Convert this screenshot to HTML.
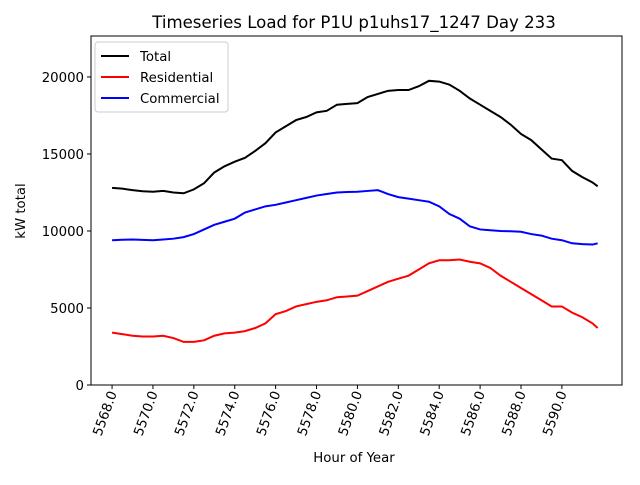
<!DOCTYPE html>
<html><head><meta charset="utf-8"><style>body{margin:0;background:#fff}svg{font-family:"DejaVu Sans","Liberation Sans",sans-serif}</style></head>
<body>
<svg id="chart" width="640" height="480" xmlns="http://www.w3.org/2000/svg">
<rect width="640" height="480" fill="#fff"/>
<text x="354" y="28" font-size="16.6" text-anchor="middle">Timeseries Load for P1U p1uhs17_1247  Day 233</text>
<text x="354" y="462" font-size="13.3" text-anchor="middle">Hour of Year</text>
<text transform="translate(25,211) rotate(-90)" font-size="13.3" text-anchor="middle">kW total</text>
<g id="plot"></g>
</svg>
<script>
const hours=[5568,5568.5,5569,5569.5,5570,5570.5,5571,5571.5,5572,5572.5,5573,5573.5,5574,5574.5,5575,5575.5,5576,5576.5,5577,5577.5,5578,5578.5,5579,5579.5,5580,5580.5,5581,5581.5,5582,5582.5,5583,5583.5,5584,5584.5,5585,5585.5,5586,5586.5,5587,5587.5,5588,5588.5,5589,5589.5,5590,5590.5,5591,5591.5,5591.75];
const total=[12800,12750,12650,12580,12550,12600,12500,12450,12700,13100,13800,14200,14500,14750,15200,15700,16400,16800,17200,17400,17700,17800,18200,18250,18300,18700,18900,19100,19150,19150,19400,19750,19700,19500,19100,18600,18200,17800,17400,16900,16300,15900,15300,14700,14600,13900,13500,13150,12900];
const residential=[3400,3300,3200,3150,3150,3200,3050,2800,2800,2900,3200,3350,3400,3500,3700,4000,4600,4800,5100,5250,5400,5500,5700,5750,5800,6100,6400,6700,6900,7100,7500,7900,8100,8100,8150,8000,7900,7600,7100,6700,6300,5900,5500,5100,5100,4700,4400,4000,3700];
const commercial=[9400,9430,9450,9420,9400,9450,9500,9600,9800,10100,10400,10600,10800,11200,11400,11600,11700,11850,12000,12150,12300,12400,12500,12530,12550,12600,12650,12400,12200,12100,12000,11900,11600,11100,10800,10300,10100,10050,10000,9980,9950,9800,9700,9500,9400,9200,9150,9120,9200];
const yTicks=[0,5000,10000,15000,20000];
const xTicks=[5568,5570,5572,5574,5576,5578,5580,5582,5584,5586,5588,5590];
const L=91,R=622,T=36,B=385,x0=5566.97,x1=5592.94,y0=0,y1=22660;
const sx=v=>L+(v-x0)/(x1-x0)*(R-L), sy=v=>B-(v-y0)/(y1-y0)*(B-T);
const NS='http://www.w3.org/2000/svg', g=document.getElementById('plot');
function mk(t,a){const e=document.createElementNS(NS,t);for(const k in a)e.setAttribute(k,a[k]);g.appendChild(e);return e;}
const series=[[total,'#000','total'],[residential,'#f00','residential'],[commercial,'#00f','commercial']];
series.forEach(s=>{const p=mk('polyline',{points:hours.map((h,i)=>sx(h)+','+sy(s[0][i])).join(' '),fill:'none',stroke:s[1],'stroke-width':2});

});
const f=mk('rect',{x:L,y:T,width:R-L,height:B-T,fill:'none',stroke:'#000','stroke-width':1});


yTicks.forEach(v=>{const y=sy(v);mk('line',{x1:L-4,x2:L,y1:y,y2:y,stroke:'#000'});
const t=mk('text',{x:L-7,y:y+5,'font-size':13.3,'text-anchor':'end'});t.textContent=v;

});
xTicks.forEach(v=>{const x=sx(v);mk('line',{x1:x,x2:x,y1:B,y2:B+4,stroke:'#000'});
const t=mk('text',{transform:`translate(${x+5},${B+8}) rotate(-70)`,'font-size':13.3,'text-anchor':'end'});t.textContent=v.toFixed(1);

});
const lg=mk('rect',{x:95,y:42,width:133,height:70,rx:3,fill:'#fff','fill-opacity':0.8,stroke:'#ccc'});


[['Total','#000'],['Residential','#f00'],['Commercial','#00f']].forEach((e,i)=>{const y=56+i*21;
mk('line',{x1:101,x2:129,y1:y,y2:y,stroke:e[1],'stroke-width':2});
const t=mk('text',{x:140,y:y+5,'font-size':13.3});t.textContent=e[0];

});
</script>
</body></html>
